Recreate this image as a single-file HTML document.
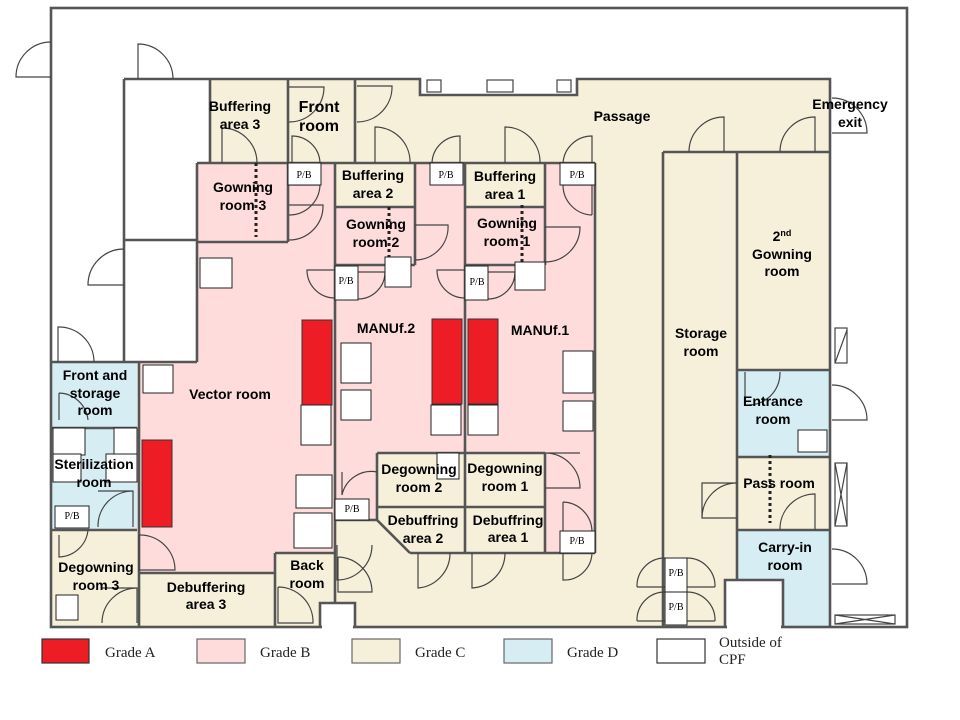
<!DOCTYPE html>
<html><head><meta charset="utf-8"><style>
body{margin:0;background:#fff}
svg{display:block}
.l{font-family:"Liberation Sans",Arial,sans-serif;font-weight:bold;font-size:14px;fill:#000;text-anchor:middle}
.g{font-family:"Liberation Serif",serif;font-size:15px;fill:#222}
.pb{font-family:"Liberation Serif",serif;font-size:10px;fill:#000;text-anchor:middle}
.w{stroke:#555;stroke-width:2.6;fill:none}
.d{stroke:#444;stroke-width:1.2;fill:none}
</style></head><body>
<svg width="960" height="720" viewBox="0 0 960 720" xmlns="http://www.w3.org/2000/svg">
<rect width="960" height="720" fill="#fff"/>
<polygon fill="#F6F0DB" points="210,79 420,79 420,95 577,95 577,79 830,79 830,627 783,627 783,580 725,580 725,627 355,627 355,603 320,603 320,627 51,627 51,362 197,362 197,242 210,242"/>
<polygon fill="#FFDCDC" points="197,163 335,163 335,553 275,553 275,573 139,573 139,362 197,362"/>
<polygon fill="#FFDCDC" points="335,163 595,163 595,553 410,553 377,520 335,520"/>
<rect x="288" y="79" width="67" height="84" fill="#F6F0DB"/>
<rect x="335" y="163" width="80" height="44" fill="#F6F0DB"/>
<rect x="465" y="163" width="80" height="44" fill="#F6F0DB"/>
<rect x="377" y="453" width="168" height="54" fill="#F6F0DB"/>
<polygon fill="#F6F0DB" points="377,507 545,507 545,553 410,553 377,520"/>
<rect x="51" y="362" width="86" height="168" fill="#D5EDF3"/>
<rect x="737" y="370" width="93" height="87" fill="#D5EDF3"/>
<rect x="737" y="530" width="93" height="97" fill="#D5EDF3"/>
<rect x="725" y="580" width="58" height="47" fill="#fff"/>
<g class="w">
<rect x="51" y="8" width="856" height="619"/>
<polyline points="124,79 420,79 420,95 577,95 577,79 830,79 830,627"/>
<line x1="124" y1="79" x2="124" y2="362"/><line x1="210" y1="79" x2="210" y2="163"/>
<line x1="124" y1="240" x2="197" y2="240"/><line x1="197" y1="163" x2="197" y2="362"/>
<line x1="51" y1="362" x2="197" y2="362"/>
<line x1="288" y1="79" x2="288" y2="242"/><line x1="197" y1="163" x2="595" y2="163"/>
<line x1="355" y1="79" x2="355" y2="163"/><line x1="197" y1="242" x2="288" y2="242"/>
<line x1="335" y1="163" x2="335" y2="603"/><line x1="415" y1="163" x2="415" y2="265"/>
<line x1="335" y1="207" x2="415" y2="207"/><line x1="335" y1="265" x2="415" y2="265"/>
<line x1="465" y1="163" x2="465" y2="553"/><line x1="465" y1="207" x2="545" y2="207"/>
<line x1="545" y1="163" x2="545" y2="265"/><line x1="465" y1="265" x2="545" y2="265"/>
<line x1="595" y1="163" x2="595" y2="553"/><line x1="410" y1="553" x2="595" y2="553"/>
<line x1="377" y1="453" x2="545" y2="453"/><line x1="377" y1="453" x2="377" y2="520"/>
<line x1="545" y1="453" x2="545" y2="553"/><line x1="377" y1="507" x2="545" y2="507"/>
<line x1="377" y1="520" x2="410" y2="553"/><line x1="335" y1="520" x2="377" y2="520"/>
<line x1="275" y1="553" x2="335" y2="553"/><line x1="275" y1="553" x2="275" y2="627"/>
<line x1="139" y1="573" x2="275" y2="573"/><line x1="139" y1="362" x2="139" y2="627"/>
<line x1="663" y1="152" x2="663" y2="627"/><line x1="737" y1="152" x2="737" y2="580"/>
<line x1="663" y1="152" x2="830" y2="152"/><line x1="737" y1="370" x2="830" y2="370"/>
<line x1="737" y1="457" x2="830" y2="457"/><line x1="737" y1="530" x2="830" y2="530"/>
<line x1="51" y1="428" x2="137" y2="428"/><line x1="51" y1="530" x2="137" y2="530"/>
<line x1="322" y1="627" x2="353" y2="627" stroke="#fff" stroke-width="4"/>
<line x1="727" y1="627" x2="781" y2="627" stroke="#fff" stroke-width="4"/>
<polyline points="320,628 320,603 355,603 355,628"/>
<polyline points="725,628 725,580 783,580 783,628"/>
</g>
<g class="d">
<path d="M51,77 L16,77 A35,35 0 0 1 51,42"/>
<path d="M138,79 L138,44 A35,35 0 0 1 173,79"/>
<path d="M124,285 L88,285 A36,36 0 0 1 124,249"/>
<path d="M58,362 L58,327 A35,35 0 0 1 94,362"/>
<path d="M222,163 L222,128 A35,35 0 0 1 257,163"/>
<path d="M289,87 L324,87 A35,35 0 0 1 289,122"/>
<path d="M292,163 L292,136 A28,28 0 0 1 320,163"/>
<path d="M289,185 L320,185 A31,31 0 0 1 289,215"/>
<path d="M289,205 L323,205 A34,34 0 0 1 289,240"/>
<path d="M357,86 L392,86 A35,35 0 0 1 357,122"/>
<path d="M375,163 L375,127 A35,35 0 0 1 410,163"/>
<path d="M460,163 L460,136 A28,28 0 0 0 432,163"/>
<path d="M505,163 L505,127 A35,35 0 0 1 540,163"/>
<path d="M592,163 L592,136 A29,29 0 0 0 563,163"/>
<path d="M724,152 L724,117 A35,35 0 0 0 689,152"/>
<path d="M815,152 L815,117 A35,35 0 0 0 780,152"/>
<path d="M832,133 L867,133 A35,35 0 0 0 832,98"/>
<path d="M563,185 L592,185 L592,215"/><path d="M563,185 A30,30 0 0 0 592,215"/>
<path d="M415,225 L448,225 A33,33 0 0 1 415,260"/>
<path d="M545,227 L580,227 A35,35 0 0 1 545,262"/>
<path d="M335,270 L307,270 A28,28 0 0 0 335,298"/>
<path d="M358,272 L385,272 A27,27 0 0 1 358,299"/>
<path d="M465,270 L437,270 A28,28 0 0 0 465,298"/>
<path d="M488,272 L515,272 A27,27 0 0 1 488,299"/>
<path d="M139,535 L139,570 L175,570 A35,35 0 0 0 139,535"/>
<path d="M59,535 L59,557 A30,30 0 0 0 88,530"/>
<path d="M102,588 L137,588 L137,623 M102,623 A35,35 0 0 1 137,588"/>
<path d="M98,491 L133,491 L133,527 M98,527 A35,35 0 0 1 133,491"/>
<path d="M59,393 L59,420 M59,393 A30,30 0 0 1 88,420"/>
<path d="M278,587 L278,623 L313,623 A35,35 0 0 0 278,587"/>
<path d="M337,545 L337,580 A35,35 0 0 0 372,545"/>
<path d="M338,557 L338,592 L372,592 A35,35 0 0 0 338,557"/>
<path d="M342,472 L342,495 A30,30 0 0 1 377,472"/>
<path d="M418,553 L418,588 A35,35 0 0 0 450,553"/>
<path d="M472,553 L472,588 A35,35 0 0 0 505,553"/>
<path d="M545,453 L580,453 M545,488 L580,488 A35,35 0 0 0 545,453"/>
<path d="M563,502 L563,531 M563,502 A30,30 0 0 1 592,531"/>
<path d="M563,553 L563,580 A28,28 0 0 0 592,553"/>
<path d="M637,587 L665,587 M637,587 A28,28 0 0 1 665,558"/>
<path d="M687,587 L715,587 M687,558 A28,28 0 0 1 715,587"/>
<path d="M637,621 L665,621 M637,621 A28,28 0 0 1 665,592"/>
<path d="M687,621 L715,621 M687,592 A28,28 0 0 1 715,621"/>
<path d="M737,483 L702,483 L702,518 L737,518 M702,518 A35,35 0 0 1 737,483"/>
<path d="M815,530 L815,494 A35,35 0 0 0 780,530"/>
<path d="M745,372 L745,405 M745,405 A32,32 0 0 0 780,372"/>
<path d="M832,420 L867,420 A35,35 0 0 0 832,385"/>
<path d="M832,584 L867,584 A35,35 0 0 0 832,549"/>
</g>
<g stroke="#444" stroke-width="1.2" fill="#fff">
<rect x="427" y="80" width="14" height="12"/><rect x="487" y="80" width="26" height="12"/><rect x="557" y="80" width="14" height="12"/>
<rect x="835" y="328" width="12" height="35"/><line x1="835" y1="363" x2="847" y2="330"/>
<rect x="835" y="463" width="12" height="63"/><line x1="835" y1="463" x2="847" y2="526"/><line x1="847" y1="463" x2="835" y2="526"/>
<rect x="835" y="615" width="60" height="9"/><line x1="835" y1="615" x2="895" y2="624"/><line x1="895" y1="615" x2="835" y2="624"/>
</g>
<g stroke="#222" stroke-width="3" stroke-dasharray="3,3">
<line x1="256" y1="163" x2="256" y2="237"/><line x1="389" y1="207" x2="389" y2="258"/>
<line x1="522" y1="205" x2="522" y2="262"/><line x1="770" y1="455" x2="770" y2="523"/>
</g>
<g fill="#EE1C25" stroke="#333" stroke-width="1">
<rect x="302" y="320" width="30" height="85"/><rect x="432" y="319" width="30" height="85"/>
<rect x="468" y="319" width="30" height="85"/><rect x="142" y="440" width="30" height="87"/>
</g>
<g fill="#fff" stroke="#222" stroke-width="1">
<rect x="200" y="258" width="32" height="30"/><rect x="143" y="365" width="30" height="28"/>
<rect x="301" y="405" width="30" height="40"/><rect x="341" y="343" width="30" height="40"/>
<rect x="341" y="390" width="30" height="30"/><rect x="431" y="405" width="30" height="30"/>
<rect x="468" y="405" width="30" height="30"/><rect x="563" y="351" width="30" height="42"/>
<rect x="563" y="401" width="30" height="30"/><rect x="296" y="475" width="36" height="33"/>
<rect x="294" y="513" width="38" height="35"/><rect x="385" y="257" width="26" height="30"/>
<rect x="515" y="262" width="30" height="28"/><rect x="798" y="430" width="29" height="22"/>
<rect x="53" y="428" width="32" height="27"/><rect x="114" y="428" width="23" height="26"/>
<rect x="53" y="454" width="28" height="28"/><rect x="106" y="454" width="31" height="28"/>
<rect x="437" y="453" width="22" height="26"/><rect x="56" y="595" width="22" height="25"/>
<rect x="288" y="163" width="33" height="22"/><rect x="430" y="163" width="33" height="22"/>
<rect x="560" y="163" width="35" height="22"/><rect x="335" y="266" width="23" height="34"/>
<rect x="465" y="266" width="23" height="34"/><rect x="55" y="506" width="34" height="22"/>
<rect x="335" y="499" width="34" height="21"/><rect x="560" y="531" width="35" height="22"/>
<rect x="665" y="558" width="22" height="34"/><rect x="665" y="592" width="22" height="33"/>
</g>
<g class="pb">
<text x="304" y="178">P/B</text><text x="446" y="178">P/B</text><text x="577" y="178">P/B</text>
<text x="346" y="284">P/B</text><text x="477" y="285">P/B</text><text x="72" y="519">P/B</text>
<text x="352" y="512">P/B</text><text x="577" y="544">P/B</text>
<text x="676" y="576">P/B</text><text x="676" y="610">P/B</text>
</g>
<g class="l">
<text x="240" y="111">Buffering</text><text x="240" y="129">area 3</text>
<text x="319" y="112" style="font-size:16px">Front</text><text x="319" y="131" style="font-size:16px">room</text>
<text x="622" y="121">Passage</text>
<text x="850" y="109">Emergency</text><text x="850" y="127">exit</text>
<text x="243" y="192">Gowning</text><text x="243" y="210">room 3</text>
<text x="373" y="180">Buffering</text><text x="373" y="198">area 2</text>
<text x="376" y="229">Gowning</text><text x="376" y="247">room 2</text>
<text x="505" y="181">Buffering</text><text x="505" y="199">area 1</text>
<text x="507" y="228">Gowning</text><text x="507" y="246">room 1</text>
<text x="782" y="241">2<tspan dy="-5" style="font-size:9px">nd</tspan></text>
<text x="782" y="259">Gowning</text><text x="782" y="276">room</text>
<text x="386" y="333">MANUf.2</text><text x="540" y="335">MANUf.1</text>
<text x="701" y="338">Storage</text><text x="701" y="356">room</text>
<text x="230" y="399">Vector room</text>
<text x="95" y="380">Front and</text><text x="95" y="398">storage</text><text x="95" y="415">room</text>
<text x="94" y="469">Sterilization</text><text x="94" y="487">room</text>
<text x="419" y="474">Degowning</text><text x="419" y="492">room 2</text>
<text x="505" y="473">Degowning</text><text x="505" y="491">room 1</text>
<text x="423" y="525">Debuffring</text><text x="423" y="543">area 2</text>
<text x="508" y="525">Debuffring</text><text x="508" y="542">area 1</text>
<text x="773" y="406">Entrance</text><text x="773" y="424">room</text>
<text x="779" y="488">Pass room</text>
<text x="785" y="552">Carry-in</text><text x="785" y="570">room</text>
<text x="307" y="570">Back</text><text x="307" y="588">room</text>
<text x="206" y="592">Debuffering</text><text x="206" y="609">area 3</text>
<text x="96" y="572">Degowning</text><text x="96" y="590">room 3</text>
</g>
<g stroke="#666" stroke-width="1.2">
<rect x="42" y="639" width="47" height="24" fill="#EE1C25" stroke="#333"/>
<rect x="197" y="639" width="48" height="24" fill="#FFDCDC"/>
<rect x="352" y="639" width="48" height="24" fill="#F6F0DB"/>
<rect x="504" y="639" width="48" height="24" fill="#D5EDF3"/>
<rect x="657" y="639" width="48" height="24" fill="#fff" stroke="#333"/>
</g>
<g class="g">
<text x="105" y="657">Grade A</text><text x="260" y="657">Grade B</text>
<text x="415" y="657">Grade C</text><text x="567" y="657">Grade D</text>
<text x="719" y="647">Outside of</text><text x="719" y="664">CPF</text>
</g>
</svg>
</body></html>
